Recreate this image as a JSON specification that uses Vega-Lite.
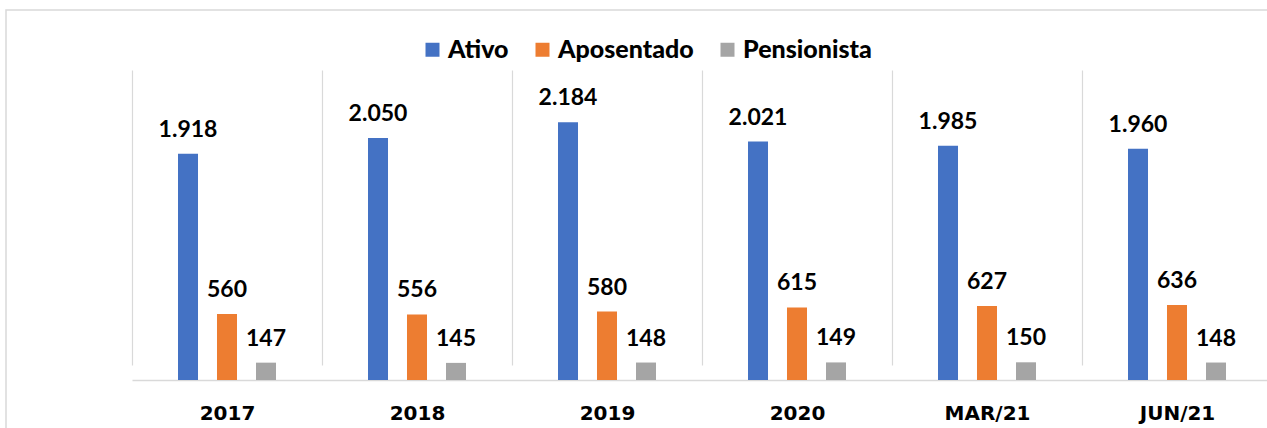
{
  "$schema": "https://vega.github.io/schema/vega-lite/v6.json",
  "width": 1392,
  "height": 430,
  "autosize": {"type": "none"},
  "padding": {"left": 6, "top": 10, "right": 0, "bottom": 0},
  "background": "white",
  "config": {
    "view": {"stroke": "#d9d9d9", "strokeWidth": 1.5},
    "font": "Lato"
  },
  "data": {
    "values": [
      {"periodo": "2017", "serie": "Ativo", "valor": 1918},
      {"periodo": "2017", "serie": "Aposentado", "valor": 560},
      {"periodo": "2017", "serie": "Pensionista", "valor": 147},
      {"periodo": "2018", "serie": "Ativo", "valor": 2050},
      {"periodo": "2018", "serie": "Aposentado", "valor": 556},
      {"periodo": "2018", "serie": "Pensionista", "valor": 145},
      {"periodo": "2019", "serie": "Ativo", "valor": 2184},
      {"periodo": "2019", "serie": "Aposentado", "valor": 580},
      {"periodo": "2019", "serie": "Pensionista", "valor": 148},
      {"periodo": "2020", "serie": "Ativo", "valor": 2021},
      {"periodo": "2020", "serie": "Aposentado", "valor": 615},
      {"periodo": "2020", "serie": "Pensionista", "valor": 149},
      {"periodo": "MAR/21", "serie": "Ativo", "valor": 1985},
      {"periodo": "MAR/21", "serie": "Aposentado", "valor": 627},
      {"periodo": "MAR/21", "serie": "Pensionista", "valor": 150},
      {"periodo": "JUN/21", "serie": "Ativo", "valor": 1960},
      {"periodo": "JUN/21", "serie": "Aposentado", "valor": 636},
      {"periodo": "JUN/21", "serie": "Pensionista", "valor": 148}
    ]
  },
  "encoding": {
    "x": {
      "field": "periodo",
      "type": "nominal",
      "sort": ["2017", "2018", "2019", "2020", "MAR/21", "JUN/21"],
      "scale": {"range": [126, 1266], "paddingInner": 0, "paddingOuter": 0},
      "axis": {
        "orient": "bottom",
        "offset": -60,
        "domain": true,
        "domainColor": "#d9d9d9",
        "domainWidth": 1.5,
        "ticks": false,
        "grid": true,
        "tickBand": "extent",
        "gridColor": "#d9d9d9",
        "gridWidth": 1.2,
        "labelAngle": 0,
        "labelFont": "DejaVu Sans",
        "labelFontWeight": "bold",
        "labelFontSize": 20,
        "labelColor": "#000000",
        "labelPadding": 23,
        "title": null
      }
    },
    "y": {"field": "valor", "type": "quantitative", "scale": {"domain": [0, 2500], "range": [370, 75]}, "axis": null}
  },
  "layer": [
    {
      "mark": {"type": "bar"},
      "encoding": {
        "xOffset": {"field": "serie", "type": "nominal", "sort": ["Ativo", "Aposentado", "Pensionista"], "scale": {"range": [46, 144], "paddingInner": 0.487, "paddingOuter": 0}},
        "color": {
          "field": "serie",
          "type": "nominal",
          "scale": {"domain": ["Ativo", "Aposentado", "Pensionista"], "range": ["#4472C4", "#ED7D31", "#A5A5A5"]},
          "legend": {
            "orient": "none",
            "legendX": 414,
            "legendY": 27,
            "direction": "horizontal",
            "title": null,
            "symbolType": "square",
            "symbolSize": 196,
            "symbolStrokeWidth": 0,
            "symbolOpacity": 1,
            "labelFont": "Lato",
            "labelFontWeight": 900,
            "labelFontSize": 25,
            "labelColor": "#000000",
            "labelOffset": 3,
            "columnPadding": 21
          }
        }
      }
    },
    {
      "transform": [{"calculate": "replace(format(datum.valor, ',d'), ',', '.')", "as": "rotulo"}],
      "mark": {"type": "text", "baseline": "alphabetic", "dy": -17, "font": "Lato", "fontWeight": "bold", "fontSize": 23, "color": "#000000"},
      "encoding": {
        "xOffset": {"field": "serie", "type": "nominal", "sort": ["Ativo", "Aposentado", "Pensionista"]},
        "text": {"field": "rotulo", "type": "nominal"}
      }
    }
  ]
}
